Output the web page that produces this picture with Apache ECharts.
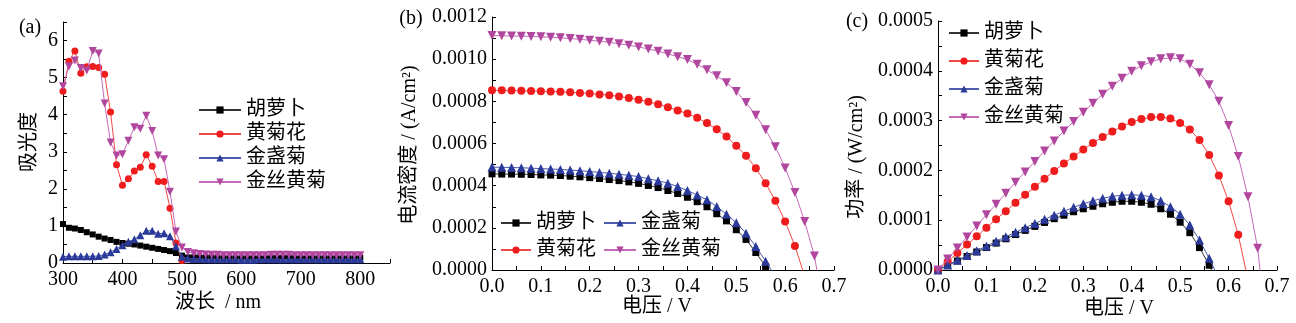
<!DOCTYPE html>
<html><head><meta charset="utf-8">
<script src="https://cdn.jsdelivr.net/npm/echarts@6/dist/echarts.min.js"></script>
<style>html,body{margin:0;padding:0;background:#fff}#c{width:1296px;height:323px}</style>
</head><body><div id="c"></div>
<script>
// ---------- data (a) absorbance ----------
const wavelength = [300,310,320,330,340,350,360,370,380,390,400,410,420,430,440,450,460,470,480,490,500,510,520,530,540,550,560,570,580,590,600,610,620,630,640,650,660,670,680,690,700,710,720,730,740,750,760,770,780,790,800];
const absCarrot = [1.05,0.95,0.93,0.89,0.83,0.77,0.71,0.66,0.62,0.57,0.54,0.52,0.50,0.47,0.44,0.41,0.38,0.35,0.32,0.27,0.20,0.15,0.15,
  0.15,0.15,0.15,0.14,0.14,0.14,0.14,0.14,0.14,0.14,0.14,0.14,0.14,0.14,0.15,0.15,0.14,0.14,0.14,0.14,0.14,0.14,0.14,0.14,0.14,0.14,0.14,0.14];
const absChrys = [4.63,5.44,5.72,5.12,5.29,5.30,5.27,5.09,4.07,2.65,2.10,2.27,2.48,2.58,2.92,2.61,2.20,2.20,1.48,0.54,0.07,-0.08,-0.25,
  null,null,null,null,null,null,null,null,null,null,null,null,null,null,null,null,null,null,null,null,null,null,null,null,null,null,null,null];
const absMarigold = [0.17,0.18,0.18,0.18,0.18,0.18,0.19,0.23,0.29,0.38,0.48,0.57,0.64,0.75,0.87,0.87,0.79,0.80,0.72,0.45,0.17,0.12,0.11,
  0.11,0.10,0.10,0.10,0.10,0.10,0.10,0.09,0.09,0.09,0.10,0.10,0.10,0.10,0.10,0.10,0.10,0.10,0.10,0.10,0.10,0.10,0.10,0.10,0.10,0.10,0.10,0.10];
const absGolden = [4.77,5.30,5.46,5.26,5.19,5.72,5.65,4.30,3.25,2.90,2.93,3.30,3.66,3.62,3.97,3.56,2.90,2.80,1.92,0.85,0.42,0.30,0.26,
  0.24,0.23,0.22,0.22,0.21,0.21,0.21,0.21,0.21,0.21,0.21,0.21,0.22,0.22,0.22,0.22,0.21,0.21,0.21,0.21,0.21,0.21,0.21,0.21,0.21,0.21,0.21,0.21];

// ---------- data (b)(c) ----------
const voltage = [0,0.02,0.04,0.06,0.08,0.10,0.12,0.14,0.16,0.18,0.20,0.22,0.24,0.26,0.28,0.30,0.32,0.34,0.36,0.38,0.40,0.42,0.44,0.46,0.48,0.50,0.52,0.54,0.56,0.58,0.60,0.62,0.64,0.66,0.68];
const jCarrot = [0.000456,0.000455,0.000455,0.000454,0.000453,0.000451,0.000450,0.000448,0.000445,0.000442,0.000438,0.000434,0.000429,0.000424,0.000418,0.000411,0.000401,0.000391,0.000377,0.000363,0.000345,0.000324,0.000300,0.000267,0.000233,0.000191,0.000145,0.000083,0.000017,-0.00005,null,null,null,null,null];
const jChrys = [0.000853,0.000852,0.000851,0.000850,0.000849,0.000848,0.000847,0.000845,0.000843,0.000840,0.000837,0.000833,0.000829,0.000823,0.000816,0.000808,0.000798,0.000786,0.000772,0.000757,0.000742,0.000722,0.000697,0.000667,0.000633,0.000589,0.000542,0.000483,0.000412,0.000328,0.000230,0.000114,-0.00003,null,null];
const jMarigold = [0.000488,0.000487,0.000486,0.000485,0.000483,0.000481,0.000479,0.000477,0.000474,0.000471,0.000467,0.000463,0.000459,0.000454,0.000449,0.000443,0.000433,0.000423,0.000412,0.000396,0.000377,0.000356,0.000333,0.000301,0.000264,0.000224,0.000174,0.000111,0.000042,-0.00003,null,null,null,null,null];
const jGolden = [0.001112,0.001111,0.001110,0.001109,0.001108,0.001106,0.001104,0.001101,0.001098,0.001094,0.001090,0.001085,0.001080,0.001073,0.001066,0.001058,0.001048,0.001038,0.001025,0.001012,0.000998,0.000976,0.000950,0.000921,0.000888,0.000847,0.000794,0.000734,0.000665,0.000584,0.000484,0.000367,0.000230,0.000066,-0.0002];

const pCarrot = [0,0.0000091,0.0000182,0.0000272,0.0000362,0.0000451,0.000054,0.0000627,0.0000712,0.0000796,0.0000876,0.0000955,0.000103,0.000110,0.000117,0.000123,0.000128,0.000133,0.000136,0.000138,0.000138,0.000136,0.000132,0.000123,0.000112,0.000096,0.000075,0.000045,0.0000095,-0.00003,null,null,null,null,null];
const pChrys = [0,0.000017,0.000034,0.000051,0.0000679,0.0000848,0.000102,0.000118,0.000135,0.000151,0.000167,0.000183,0.000199,0.000214,0.000228,0.000242,0.000255,0.000267,0.000278,0.000288,0.000297,0.000303,0.000307,0.000307,0.000304,0.000295,0.000282,0.000261,0.000231,0.000190,0.000138,0.0000707,-0.000019,null,null];
const pMarigold = [0,0.0000098,0.0000194,0.0000291,0.0000386,0.0000481,0.0000575,0.0000668,0.0000758,0.0000848,0.0000934,0.000102,0.000110,0.000118,0.000126,0.000133,0.000139,0.000144,0.000148,0.000150,0.000151,0.000150,0.000147,0.000139,0.000127,0.000112,0.0000905,0.000060,0.0000235,-0.000017,null,null,null,null,null];
const pGolden = [0,0.0000222,0.0000444,0.0000665,0.0000886,0.000111,0.000132,0.000154,0.000176,0.000197,0.000218,0.000239,0.000259,0.000279,0.000298,0.000317,0.000335,0.000353,0.000369,0.000385,0.000399,0.000410,0.000418,0.000424,0.000426,0.000424,0.000413,0.000396,0.000372,0.000339,0.000290,0.000228,0.000147,0.0000436,-0.000136];

const names = ['胡萝卜','黄菊花','金盏菊','金丝黄菊'];

// ---------- styles ----------
const FONT = "'Liberation Serif','Noto Sans CJK SC',serif";
const sty = [
  {symbol:'rect', rot:0, mark:'#000000', line:'#333333', size:7},
  {symbol:'circle', rot:0, mark:'#ee1c1c', line:'#f24848', size:8},
  {symbol:'triangle', rot:0, mark:'#2b3a9a', line:'#4d5cab', size:9},
  {symbol:'triangle', rot:180, mark:'#b1469f', line:'#c46ab8', size:9}
];

function pairs(xs, ys){ return xs.map((x,i)=>[x, ys[i]]); }

function mkSeries(k, xi, xs, ys){
  const s = sty[k];
  const small = xi === 0 ? 1 : 0;
  return {
    type:'line', name:names[k], xAxisIndex:xi, yAxisIndex:xi,
    data:pairs(xs, ys), clip:true, connectNulls:false,
    symbol:s.symbol, symbolRotate:s.rot, symbolSize:s.size - small, showAllSymbol:true,
    lineStyle:{color:s.line, width:1},
    itemStyle:{color:s.mark, borderWidth:0},
    z: 2 + k
  };
}

function axis(gi, min, max, interval, fmt){
  return {
    type:'value', gridIndex:gi, min, max, interval,
    axisLine:{show:true, onZero:false, lineStyle:{color:'#000', width:1}},
    axisTick:{show:true, inside:true, length:4, lineStyle:{color:'#000', width:1}},
    splitLine:{show:false},
    axisLabel:{fontFamily:FONT, fontSize:20, color:'#000', margin:5, formatter:fmt, showMinLabel:true, showMaxLabel:true}
  };
}

const fmtWave = v => (Math.round(v) % 100 === 0 && v <= 800) ? String(Math.round(v)) : '';
const fmtAbs = v => Math.abs(v - Math.round(v)) < 1e-6 ? String(Math.round(v)) : '';
const fmtV = v => { const k = Math.round(v/0.05); return k % 2 === 0 ? (k*0.05).toFixed(1) : ''; };
const fmtJ = v => { const k = Math.round(v/0.0001); return k % 2 === 0 ? (k*0.0001).toFixed(4) : ''; };
const fmtP = v => { const k = Math.round(v/0.00005); return k % 2 === 0 ? (k*0.00005).toFixed(4) : ''; };

const xA = axis(0, 300, 850, 50, fmtWave); xA.axisLabel.margin = 7;
const xB = axis(1, 0, 0.7, 0.05, fmtV); xB.axisLabel.margin = 7;
const xC = axis(2, 0, 0.7, 0.05, fmtV); xC.axisLabel.margin = 7;
const yA = axis(0, 0, 6.5, 0.5, fmtAbs);
const yB = axis(1, 0, 0.0012, 0.0001, fmtJ);
const yC = axis(2, 0, 0.0005, 0.00005, fmtP);

const legendBase = {
  orient:'vertical', padding:0, itemWidth:30, itemHeight:9, itemGap:6,
  textStyle:{fontFamily:FONT, fontSize:20, color:'#000', padding:[0,0,0,0]},
  selectedMode:false
};

const series = [];
[absCarrot, absChrys, absMarigold, absGolden].forEach((ys,k)=>series.push(mkSeries(k,0,wavelength,ys)));
[jCarrot, jChrys, jMarigold, jGolden].forEach((ys,k)=>series.push(mkSeries(k,1,voltage,ys)));
[pCarrot, pChrys, pMarigold, pGolden].forEach((ys,k)=>series.push(mkSeries(k,2,voltage,ys)));

function txt(text, x, y, opts){
  return Object.assign({type:'text', x, y, silent:true,
    style:{text, font:"20px " + FONT, fill:'#000', textAlign:'center', textVerticalAlign:'middle'}}, opts||{});
}

const option = {
  animation:false,
  backgroundColor:'#fff',
  grid:[
    {left:63, top:22, width:327, height:241, containLabel:false, outerBoundsMode:'none'},
    {left:492, top:17, width:342, height:253, containLabel:false, outerBoundsMode:'none'},
    {left:938, top:21, width:339, height:249, containLabel:false, outerBoundsMode:'none'}
  ],
  xAxis:[xA, xB, xC],
  yAxis:[yA, yB, yC],
  legend:[
    Object.assign({}, legendBase, {data:names, left:198, top:100, itemWidth:42, itemGap:4}),
    Object.assign({}, legendBase, {data:['胡萝卜','黄菊花'], left:500, top:213, itemGap:7}),
    Object.assign({}, legendBase, {data:['金盏菊','金丝黄菊'], left:603, top:213, itemWidth:32, itemGap:7}),
    Object.assign({}, legendBase, {data:names, left:948, top:23, itemGap:8})
  ],
  series,
  graphic:[
    txt('(a)', 30, 28),
    txt('(b)', 411, 19),
    txt('(c)', 857, 22),
    txt('波长  / nm', 218, 303),
    txt('电压 / V', 657, 307),
    txt('电压 / V', 1119, 309),
    txt('吸光度', 30, 142, {rotation:Math.PI/2}),
    txt('电流密度 / (A/cm²)', 410, 145, {rotation:Math.PI/2}),
    txt('功率 / (W/cm²)', 857, 157, {rotation:Math.PI/2})
  ]
};

const chart = echarts.init(document.getElementById('c'), null, {renderer:'canvas'});
chart.setOption(option);
</script>
</body></html>
